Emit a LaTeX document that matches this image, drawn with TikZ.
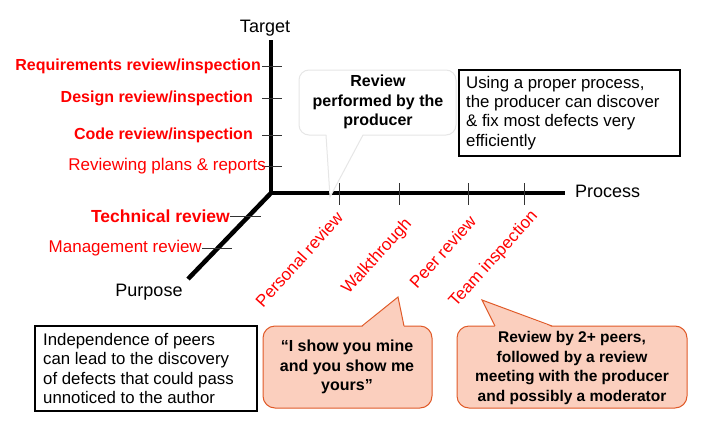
\documentclass[tikz,border=0pt]{standalone}
\usepackage{fontspec}
\setmainfont{Liberation Sans}
\definecolor{salmon}{RGB}{251,207,190}
\definecolor{salmonline}{RGB}{224,90,40}
\definecolor{bubbleline}{RGB}{230,230,230}
\begin{document}
\begin{tikzpicture}[x=1pt,y=-1pt,
  axis/.style={line width=4.5pt},
  tick/.style={line width=0.9pt,black!80},
  axislabel/.style={font=\fontsize{18}{21}\selectfont,inner sep=0pt},
  redbold/.style={text=red,font=\fontsize{16}{19}\selectfont\bfseries,inner sep=0pt},
  redreg/.style={text=red,font=\fontsize{17}{20}\selectfont,inner sep=0pt},
  rotlabel/.style={text=red,font=\fontsize{17}{20}\selectfont,inner sep=0pt,rotate=48,anchor=north east},
  boxtext/.style={font=\fontsize{16.8}{19.2}\selectfont,align=left,inner sep=0pt},
  bubbletext/.style={font=\fontsize{16}{19.5}\selectfont\bfseries,align=center,inner sep=0pt},
  plainbox/.style={draw=black,line width=1.5pt,fill=white},
  whitebubble/.style={draw=bubbleline,line width=1pt,fill=white},
  salmonbubble/.style={draw=salmonline,line width=1pt,fill=salmon}
]
\useasboundingbox (0,0) rectangle (717,431);

% axes
\coordinate (O) at (271,193);
\coordinate (T) at (271,40);
\coordinate (P) at (565,193);
\coordinate (U) at (188,279);
\draw[axis,line cap=butt] (T) -- (O) -- (P);
\draw[axis] (O) -- (U);

% axis labels
\node[axislabel] (target) at (265,28) {Target};
\node[axislabel,anchor=west] (process) at (575,191) {Process};
\node[axislabel] (purpose) at (149,292) {Purpose};

% target ticks and labels
\foreach \yy/\nm in {66/t1,98/t2,135/t3,166/t4}{
  \coordinate (\nm a) at (262,\yy);
  \coordinate (\nm b) at (282,\yy);
  \draw[tick] (\nm a) -- (\nm b);
}
\node[redbold,anchor=east] (req) at (261,66) {Requirements review/inspection};
\node[redbold,anchor=east] (des) at (253,98) {Design review/inspection};
\node[redbold,anchor=east] (cod) at (253,135) {Code review/inspection};
\node[redreg,anchor=east] (rpl) at (266,166) {Reviewing plans \& reports};

% purpose ticks and labels
\node[redbold,font=\fontsize{17.5}{20}\selectfont\bfseries,anchor=east] (tech) at (230,216) {Technical review};
\node[redreg,anchor=east] (mgmt) at (202,248) {Management review};
\coordinate (d1) at (261,216);
\coordinate (d2) at (232,248);
\draw[tick] (tech.east) -- (d1);
\draw[tick] (mgmt.east) -- (d2);

% process ticks
\foreach \xx/\nm in {339/p1,399/p2,468/p3,524/p4}{
  \coordinate (\nm a) at (\xx,183);
  \coordinate (\nm b) at (\xx,205);
  \draw[tick] (\nm a) -- (\nm b);
}
\node[rotlabel] (pers) at (335,210) {Personal review};
\node[rotlabel] (walk) at (403,216) {Walkthrough};
\node[rotlabel] (peer) at (468,214) {Peer review};
\node[rotlabel] (team) at (529,208) {Team inspection};

% white callout
\draw[whitebubble,rounded corners=10pt] (299,70) rectangle (456,135);
\fill[white] (326,134) -- (330,197) -- (363,134) -- cycle;
\coordinate (c1a) at (326,135);
\coordinate (c1t) at (330,197);
\coordinate (c1b) at (363,135);
\draw[bubbleline,line width=1pt] (c1a) -- (c1t) -- (c1b);
\node[bubbletext] (rbp) at (378,102) {Review\\performed by the\\producer};

% right box
\draw[plainbox] (459,70) rectangle (680,156);
\node[boxtext,anchor=west] (using) at (466,113) {Using a proper process,\\the producer can discover\\\& fix most defects very\\efficiently};

% left bottom box
\draw[plainbox] (35,326) rectangle (257,411);
\node[boxtext,anchor=west] (indep) at (43,368.5) {Independence of peers\\can lead to the discovery\\of defects that could pass\\unnoticed to the author};

% salmon bubble 1
\draw[salmonbubble,rounded corners=12pt] (263,326) rectangle (432,408);
\fill[salmon] (362,327) -- (398,297) -- (404,327) -- cycle;
\coordinate (c2a) at (362,326);
\coordinate (c2t) at (398,297);
\coordinate (c2b) at (404,326);
\draw[salmonline,line width=1pt] (c2a) -- (c2t) -- (c2b);
\node[bubbletext] (show) at (347,367) {“I show you mine\\and you show me\\yours”};

% salmon bubble 2
\draw[salmonbubble,rounded corners=12pt] (457,326) rectangle (687,408);
\fill[salmon] (495,327) -- (482,300) -- (552,327) -- cycle;
\coordinate (c3a) at (495,326);
\coordinate (c3t) at (482,300);
\coordinate (c3b) at (552,326);
\draw[salmonline,line width=1pt] (c3a) -- (c3t) -- (c3b);
\node[bubbletext,font=\fontsize{15.5}{19.5}\selectfont\bfseries] (rby) at (572,368) {Review by 2+ peers,\\followed by a review\\meeting with the producer\\and possibly a moderator};
\end{tikzpicture}
\end{document}
